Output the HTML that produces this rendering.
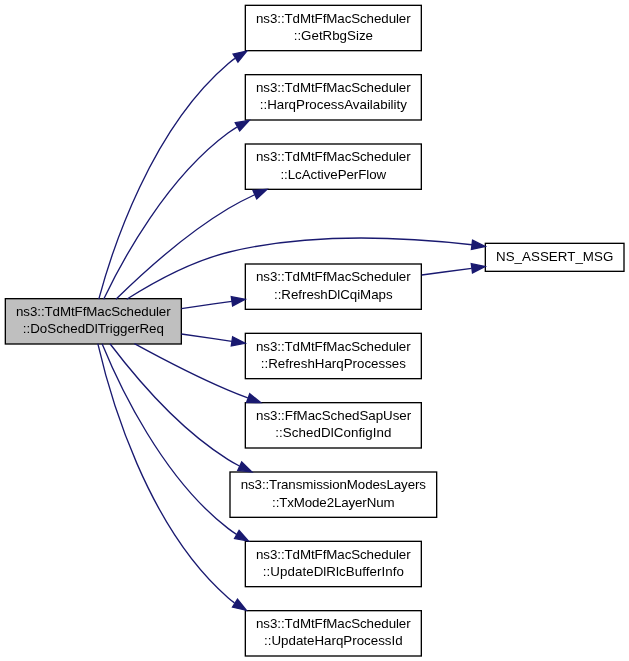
<!DOCTYPE html>
<html lang="en">
<head>
<meta charset="utf-8">
<title>ns3::TdMtFfMacScheduler::DoSchedDlTriggerReq</title>
<style>
html,body{margin:0;padding:0;background:#fff;}
svg{display:block;will-change:transform;}
text{font-family:"Liberation Sans",sans-serif;font-size:10px;fill:#000;}
.n{stroke:#000;stroke-width:1;}
.e{fill:none;stroke:#191970;stroke-width:1;}
.a{fill:#191970;stroke:#191970;stroke-width:1;}
</style>
</head>
<body>
<svg width="629" height="661" viewBox="0 0 471.75 495.75">
<rect x="0" y="0" width="472" height="496" fill="#fff"/>
<g transform="translate(4 492)">
<g><rect class="n" x="0" y="-268" width="132" height="34" fill="#bfbfbf"/><text x="8" y="-255" textLength="116">ns3::TdMtFfMacScheduler</text><text text-anchor="middle" x="66" y="-242">::DoSchedDlTriggerReq</text></g>
<g><rect class="n" x="180" y="-488" width="132" height="34" fill="#fff"/><text x="188" y="-475" textLength="116">ns3::TdMtFfMacScheduler</text><text text-anchor="middle" x="246" y="-462">::GetRbgSize</text></g>
<g><rect class="n" x="180" y="-436" width="132" height="34" fill="#fff"/><text x="188" y="-423" textLength="116">ns3::TdMtFfMacScheduler</text><text text-anchor="middle" x="246" y="-410">::HarqProcessAvailability</text></g>
<g><rect class="n" x="180" y="-384" width="132" height="34" fill="#fff"/><text x="188" y="-371" textLength="116">ns3::TdMtFfMacScheduler</text><text text-anchor="middle" x="246" y="-358" textLength="79.3">::LcActivePerFlow</text></g>
<g><rect class="n" x="360" y="-309.5" width="104" height="21" fill="#fff"/><text text-anchor="middle" x="412" y="-296.5" textLength="88">NS_ASSERT_MSG</text></g>
<g><rect class="n" x="180" y="-294" width="132" height="34" fill="#fff"/><text x="188" y="-281" textLength="116">ns3::TdMtFfMacScheduler</text><text text-anchor="middle" x="246" y="-268" textLength="88.9">::RefreshDlCqiMaps</text></g>
<g><rect class="n" x="180" y="-242" width="132" height="34" fill="#fff"/><text x="188" y="-229" textLength="116">ns3::TdMtFfMacScheduler</text><text text-anchor="middle" x="246" y="-216">::RefreshHarqProcesses</text></g>
<g><rect class="n" x="180" y="-190" width="132" height="34" fill="#fff"/><text x="188" y="-177" textLength="116.4">ns3::FfMacSchedSapUser</text><text text-anchor="middle" x="246" y="-164" textLength="87.3">::SchedDlConfigInd</text></g>
<g><rect class="n" x="168.5" y="-138" width="155" height="34" fill="#fff"/><text x="176.5" y="-125" textLength="139">ns3::TransmissionModesLayers</text><text text-anchor="middle" x="246" y="-112" textLength="91.9">::TxMode2LayerNum</text></g>
<g><rect class="n" x="180" y="-86" width="132" height="34" fill="#fff"/><text x="188" y="-73" textLength="116">ns3::TdMtFfMacScheduler</text><text text-anchor="middle" x="246" y="-60" textLength="105.75">::UpdateDlRlcBufferInfo</text></g>
<g><rect class="n" x="180" y="-34" width="132" height="34" fill="#fff"/><text x="188" y="-21" textLength="116">ns3::TdMtFfMacScheduler</text><text text-anchor="middle" x="246" y="-8">::UpdateHarqProcessId</text></g>
<path class="e" d="M70.1,-267.7C80.12,-304.98 109.47,-395.3 167.3,-444.4 168.87,-445.74 170.51,-447.02 172.21,-448.22"/><polygon class="a" points="170.78,-451.46 181.13,-453.74 174.46,-445.51 170.78,-451.46"/>
<path class="e" d="M73.73,-267.61C87.83,-297.1 120.98,-358.31 167,-392.2 169.13,-393.78 171.36,-395.27 173.67,-396.68"/><polygon class="a" points="172.44,-399.99 182.9,-401.67 175.77,-393.83 172.44,-399.99"/>
<path class="e" d="M82.94,-267.53C101.91,-286.12 134.68,-316.08 167.25,-335.6 173.45,-339.33 180.18,-342.78 186.99,-345.93"/><polygon class="a" points="185.72,-349.2 196.29,-350.03 188.55,-342.79 185.72,-349.2"/>
<path class="e" d="M91.01,-267.54C110.7,-280.04 139.82,-296.17 168,-303 228.61,-317.69 300.25,-314.08 349.96,-308.41"/><polygon class="a" points="350.41,-311.88 359.92,-307.21 349.57,-304.93 350.41,-311.88"/>
<path class="e" d="M132.02,-260.5C144.32,-262.29 157.28,-264.19 169.87,-266.03"/><polygon class="a" points="169.46,-269.5 179.86,-267.49 170.47,-262.58 169.46,-269.5"/>
<path class="e" d="M132.02,-241.5C144.32,-239.71 157.28,-237.81 169.87,-235.97"/><polygon class="a" points="170.47,-239.42 179.86,-234.51 169.46,-232.5 170.47,-239.42"/>
<path class="e" d="M96.79,-234.33C116.64,-223.48 143,-209.68 167.1,-199.43 171.85,-197.42 176.81,-195.45 181.83,-193.56"/><polygon class="a" points="183.33,-196.74 191.52,-190.01 180.92,-190.16 183.33,-196.74"/>
<path class="e" d="M78.5,-234.19C95.81,-211.39 129.4,-171.02 166.8,-147.5 169.6,-145.73 172.54,-144.07 175.57,-142.5"/><polygon class="a" points="177.3,-145.56 184.85,-138.12 174.31,-139.23 177.3,-145.56"/>
<path class="e" d="M72.56,-234.25C85.55,-202.48 117.92,-133.57 167,-95.7 169.05,-94.11 171.2,-92.61 173.42,-91.2"/><polygon class="a" points="175.33,-94.15 182.34,-86.2 171.91,-88.04 175.33,-94.15"/>
<path class="e" d="M69.36,-234.29C78.35,-195.12 106.1,-96.97 167,-43.75 168.55,-42.39 170.17,-41.09 171.85,-39.87"/><polygon class="a" points="174.12,-42.58 180.72,-34.28 170.39,-36.65 174.12,-42.58"/>
<path class="e" d="M312.29,-285.76C324.64,-287.42 337.52,-289.14 349.74,-290.78"/><polygon class="a" points="349.45,-294.27 359.83,-292.14 350.38,-287.34 349.45,-294.27"/>
</g>
</svg>
</body>
</html>
